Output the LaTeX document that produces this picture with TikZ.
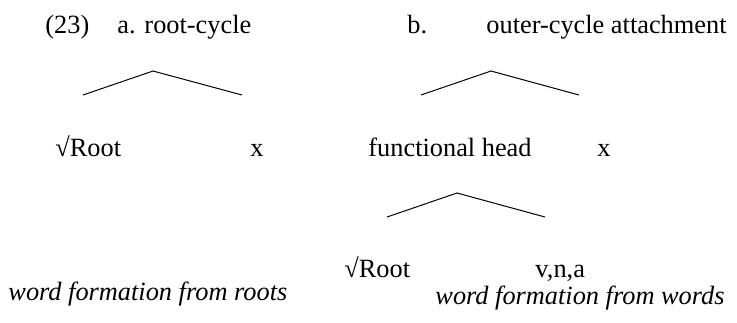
\documentclass[tikz,border=0pt]{standalone}
\usepackage{fontspec}
\setmainfont{Liberation Serif}[ItalicFont={Liberation Serif Italic}]
\usepackage{tikz}

\tikzset{
  word/.style={anchor=base west, inner sep=0pt, text=black, font=\fontsize{12}{14}\selectfont},
  gloss/.style={word, font=\fontsize{12}{14}\selectfont\itshape},
  branch/.style={draw=black, line width=0.45pt}
}

\begin{document}
\begin{tikzpicture}[x=0.016cm, y=-0.016cm]
          \useasboundingbox (0,0) rectangle (737,322);
          % Heading of the example
          \node[word] (num) at (45,33) {(23)};
          \node[word] (headA) at (117,33) {a. root-cycle};
          \node[word] (headB) at (407,33) {b.};
          \node[word] (titleB) at (486,33) {outer-cycle attachment};
          % Tree (a)
          \coordinate (topA) at (153,71);
          \coordinate (leftA) at (83,95);
          \coordinate (rightA) at (242,95);
          \draw[branch] (leftA) -- (topA) -- (rightA);
          \node[word] (rootA) at (55,156) {√Root};
          \node[word] (xA) at (250,156) {x};
          % Tree (b), upper branching
          \coordinate (topB) at (491,71);
          \coordinate (leftB) at (421,95);
          \coordinate (rightB) at (579,95);
          \draw[branch] (leftB) -- (topB) -- (rightB);
          \node[word] (fhead) at (368,156) {functional head};
          \node[word] (xB) at (597,156) {x};
          % Tree (b), lower branching
          \coordinate (topC) at (457,193);
          \coordinate (leftC) at (387,217);
          \coordinate (rightC) at (545,217);
          \draw[branch] (leftC) -- (topC) -- (rightC);
          \node[word] (rootB) at (344,277) {√Root};
          \node[word] (vna) at (535,277) {v,n,a};
          % Glosses
          \node[gloss] (glossA) at (8,300) {word formation from roots};
          \node[gloss] (glossB) at (435,304) {word formation from words};
        \end{tikzpicture}
\end{document}
